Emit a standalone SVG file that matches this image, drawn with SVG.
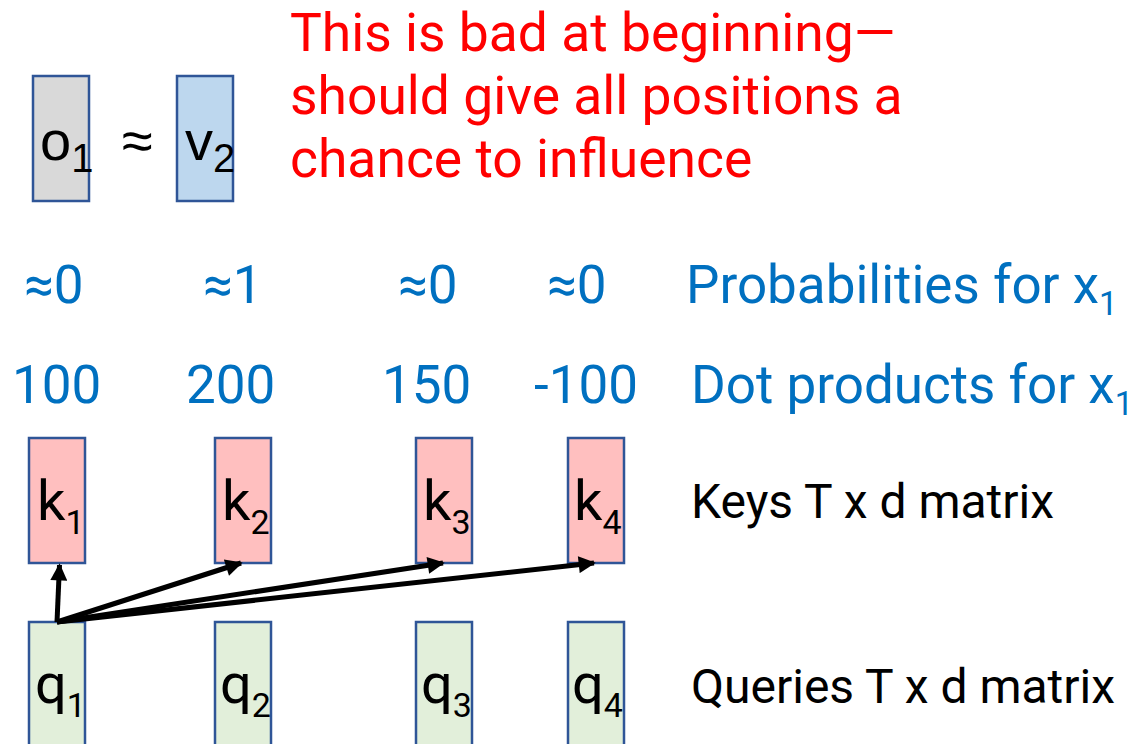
<svg xmlns="http://www.w3.org/2000/svg" width="1138" height="744" viewBox="0 0 1138 744">
<style>
.box{stroke:#2f5597;stroke-width:2.5}
.o{fill:#d9d9d9}.v{fill:#bdd7ee}.k{fill:#ffbfbf}.q{fill:#e2efda}
.ar{font-family:"Liberation Sans",Arial,sans-serif;font-size:56px;fill:#000}
.rb{font-family:Roboto,"Liberation Sans",sans-serif}
.lbl{font-size:56px;fill:#000}
.red{font-size:53.4px;fill:#ff0000}
.blue{font-size:53px;fill:#0070c0}
.blk{font-size:48px;fill:#000}
.con{stroke:#000;stroke-width:5;fill:none;marker-end:url(#ah)}
</style>
<defs>
<marker id="ah" viewBox="0 0 10 10" refX="9" refY="5" markerWidth="4.2" markerHeight="3.4" orient="auto" markerUnits="strokeWidth">
<path d="M0,0 L10,5 L0,10 z" fill="#000"/>
</marker>
</defs>
<rect width="1138" height="744" fill="#fff"/>
<g id="o1">
<rect class="box o" x="33" y="76" width="56" height="125"/>
<text class="ar" x="40" y="160">o<tspan font-size="40" dy="12">1</tspan></text>
</g>
<g id="approx">
<text class="ar" x="122" y="160">≈</text>
</g>
<g id="v2">
<rect class="box v" x="177" y="76" width="56" height="125"/>
<text class="ar" x="185" y="160">v<tspan font-size="40" dy="12">2</tspan></text>
</g>
<g id="note">
<text class="rb red" x="290" y="51">This is bad at beginning—</text>
<text class="rb red" x="290" y="114">should give all positions a</text>
<text class="rb red" x="290" y="177">chance to influence</text>
</g>
<g id="probs">
<text class="rb blue" x="24" y="303">≈0</text>
<text class="rb blue" x="203" y="303">≈1</text>
<text class="rb blue" x="398" y="303">≈0</text>
<text class="rb blue" x="547" y="303">≈0</text>
<text class="rb blue" x="686" y="303">Probabilities for x<tspan font-size="33" dy="12">1</tspan></text>
</g>
<g id="dots">
<text class="rb blue" x="12" y="403">100</text>
<text class="rb blue" x="186" y="403">200</text>
<text class="rb blue" x="382" y="403">150</text>
<text class="rb blue" x="534" y="403">-100</text>
<text class="rb blue" x="691" y="403">Dot products for x<tspan font-size="33" dy="12">1</tspan></text>
</g>
<g id="k1"><rect class="box k" x="29" y="438" width="56" height="125"/><text class="rb lbl" x="37" y="520">k<tspan font-size="34" dy="14">1</tspan></text></g>
<g id="k2"><rect class="box k" x="215" y="438" width="56" height="125"/><text class="rb lbl" x="222" y="520">k<tspan font-size="34" dy="14">2</tspan></text></g>
<g id="k3"><rect class="box k" x="416" y="438" width="56" height="125"/><text class="rb lbl" x="423" y="520">k<tspan font-size="34" dy="14">3</tspan></text></g>
<g id="k4"><rect class="box k" x="568" y="438" width="56" height="125"/><text class="rb lbl" x="574" y="520">k<tspan font-size="34" dy="14">4</tspan></text></g>
<g id="keys-label"><text class="rb blk" x="691" y="518">Keys T x d matrix</text></g>
<g id="q1"><rect class="box q" x="29" y="622" width="56" height="130"/><text class="rb lbl" x="35" y="703">q<tspan font-size="34" dy="14">1</tspan></text></g>
<g id="q2"><rect class="box q" x="215" y="622" width="56" height="130"/><text class="rb lbl" x="220" y="703">q<tspan font-size="34" dy="14">2</tspan></text></g>
<g id="q3"><rect class="box q" x="416" y="622" width="56" height="130"/><text class="rb lbl" x="421" y="703">q<tspan font-size="34" dy="14">3</tspan></text></g>
<g id="q4"><rect class="box q" x="568" y="622" width="56" height="130"/><text class="rb lbl" x="572" y="703">q<tspan font-size="34" dy="14">4</tspan></text></g>
<g id="queries-label"><text class="rb blk" x="691" y="703">Queries T x d matrix</text></g>
<g id="connectors">
<line class="con" x1="57" y1="622" x2="59.5" y2="565"/>
<line class="con" x1="57" y1="622" x2="241" y2="563"/>
<line class="con" x1="57" y1="622" x2="443" y2="563"/>
<line class="con" x1="57" y1="622" x2="594" y2="563"/>
</g>
</svg>
